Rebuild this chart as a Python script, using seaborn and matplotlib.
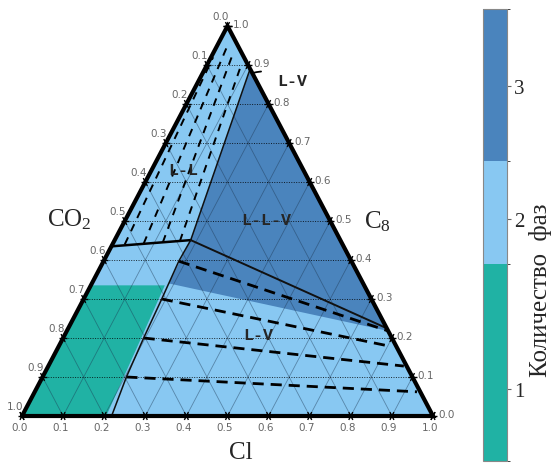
import numpy as np
import pandas as pd
import seaborn as sns
import matplotlib
matplotlib.use("Agg")
from matplotlib import pyplot as plt
from matplotlib.colors import ListedColormap, BoundaryNorm
from matplotlib.cm import ScalarMappable
from matplotlib.collections import LineCollection

sns.set_style("white")
plt.rcParams['font.family'] = ['DejaVu Sans']
plt.rcParams['mathtext.default'] = 'regular'

# colours for 1, 2, 3 phases
phase_colors = ["#20b2a4", "#88c8f2", "#4a84bd"]
phase_labels = ["1", "2", "3"]

# colorbar segment edges / tick positions (fraction of bar height)
cbar_edges = [0.0, 0.436, 0.664, 1.0]
cbar_ticks = [0.159, 0.535, 0.830]

# compositions given as (C1, C8) fractions, CO2 = 1 - C1 - C8
one_phase_c1 = [0.0, 0.0, 0.18, 0.205]
one_phase_c8 = [0.0, 0.335, 0.335, 0.0]

three_phase_c1 = [0.11, 0.782, 0.187, 0.185]
three_phase_c8 = [0.89, 0.218, 0.34, 0.451]

boundary_c1 = [0.11, 0.185, 0.183, 0.19, 0.196, 0.204, 0.218]
boundary_c8 = [0.89, 0.451, 0.397, 0.30, 0.20, 0.10, 0.0]

ll_base_c1 = [0.0, 0.185]
ll_base_c8 = [0.435, 0.451]

llv_edge_c1 = [0.185, 0.775]
llv_edge_c8 = [0.451, 0.225]

# tie-lines (start, end)
ll_ties_c1 = [[0.03, 0.005], [0.075, 0.025], [0.12, 0.05], [0.16, 0.085]]
ll_ties_c8 = [[0.44, 0.92], [0.442, 0.95], [0.445, 0.92], [0.448, 0.89]]
lv_ties_c1 = [[0.183, 0.782], [0.19, 0.80], [0.196, 0.865], [0.204, 0.93]]
lv_ties_c8 = [[0.397, 0.218], [0.30, 0.18], [0.20, 0.128], [0.10, 0.062]]

tick_values = [round(i / 10, 1) for i in range(11)]


def to_xy(c1, c8):
    c1 = np.asarray(c1, dtype=float)
    c8 = np.asarray(c8, dtype=float)
    return c1 + c8 / 2.0, c8


fig = plt.figure(figsize=(5.55, 4.64), dpi=100)
ax = fig.add_axes([0, 0, 445 / 555, 1])
ax.set_xlim((0 - 22) / 411, (445 - 22) / 411)
ax.set_ylim((417 - 464) / 390, 417 / 390)
ax.axis("off")

# background: whole triangle two-phase
tx, ty = to_xy([0, 1, 0], [0, 0, 1])
ax.fill(tx, ty, color=phase_colors[1], lw=0, zorder=1)
x, y = to_xy(three_phase_c1, three_phase_c8)
ax.fill(x, y, color=phase_colors[2], lw=0, zorder=1)
x, y = to_xy(one_phase_c1, one_phase_c8)
ax.fill(x, y, color=phase_colors[0], lw=0, zorder=1)

# triangular grid
slanted = []
flat = []
for v in tick_values[1:-1]:
    flat.append(np.column_stack(to_xy([0, 1 - v], [v, v])))
    slanted.append(np.column_stack(to_xy([v, v], [0, 1 - v])))
    slanted.append(np.column_stack(to_xy([1 - v, 0], [0, 1 - v])))
ax.add_collection(LineCollection(slanted, colors="#1c3550", linewidths=0.6, alpha=0.45, zorder=2))
ax.add_collection(LineCollection(flat, colors="black", linewidths=0.7, alpha=0.8,
                                 linestyles=[(0, (1, 1.5))], zorder=2))

# tie-lines
rows = []
for k, (cs, hs) in enumerate(zip(ll_ties_c1 + lv_ties_c1, ll_ties_c8 + lv_ties_c8)):
    xs, ys = to_xy(cs, hs)
    for xx, yy in zip(xs, ys):
        rows.append({"x": xx, "y": yy, "tie": k, "group": "ll" if k < 4 else "lv"})
ties = pd.DataFrame(rows)
sns.lineplot(data=ties[ties.group == "ll"], x="x", y="y", units="tie", estimator=None,
             sort=False, color="black", lw=1.4, linestyle=(0, (4, 3.5)), ax=ax, zorder=3)
sns.lineplot(data=ties[ties.group == "lv"], x="x", y="y", units="tie", estimator=None,
             sort=False, color="black", lw=2.0, linestyle=(0, (4, 2.5)), ax=ax, zorder=3)

# phase boundaries
x, y = to_xy(boundary_c1, boundary_c8)
ax.plot(x, y, color="#111111", lw=1.1, zorder=4)
x, y = to_xy(ll_base_c1, ll_base_c8)
ax.plot(x, y, color="black", lw=1.8, zorder=4)
x, y = to_xy(llv_edge_c1, llv_edge_c8)
ax.plot(x, y, color="#111111", lw=1.4, zorder=4)

# tick marks on the edges
L = 0.01
segs = []
for v in tick_values:
    for p, dirs in [((v, 0.0), [(0, 1), (-1, 1)]),
                    ((0.0, 1 - v), [(1, 0), (1, -1)]),
                    ((1 - v, v), [(1, 0), (0, 1)])]:
        for d in dirs:
            a = to_xy(p[0] - L * d[0], p[1] - L * d[1])
            b = to_xy(p[0] + L * d[0], p[1] + L * d[1])
            segs.append([a, b])
ax.add_collection(LineCollection(segs, colors="black", linewidths=1.0, zorder=5))

# triangle edges
ax.plot(np.append(tx, tx[0]), np.append(ty, ty[0]), color="black", lw=3, zorder=5,
        solid_joinstyle="miter")

# tick labels
lab_kw = dict(textcoords="offset points", fontsize=7.5, color="#666666", ha="center", va="center", zorder=6)
for v in tick_values:
    ax.annotate(f"{v:.1f}", to_xy(v, 0), xytext=(-2, -8), **lab_kw)
    ax.annotate(f"{v:.1f}", to_xy(0, 1 - v), xytext=(-5, 7), **lab_kw)
    ax.annotate(f"{v:.1f}", to_xy(1 - v, v), xytext=(9.5, 1.4), **lab_kw)

# region labels
reg_kw = dict(fontfamily="Liberation Mono", fontweight="bold", fontsize=12, ha="center", va="center", zorder=6)
ax.text(*to_xy(0.075, 0.633), "L-L", **reg_kw)
ax.text(*to_xy(0.341, 0.505), "L-L-V", **reg_kw)
ax.text(*to_xy(0.469, 0.21), "L-V", **reg_kw)
ax.annotate("L-V", xy=to_xy(0.12, 0.879), xytext=to_xy(0.227, 0.859),
            arrowprops=dict(arrowstyle="-", color="black", lw=1.3, shrinkA=9, shrinkB=0,
                            connectionstyle="arc3,rad=0.25"), **reg_kw)

# component names
name_kw = dict(fontfamily="Liberation Serif", fontsize=18, ha="center", va="center", zorder=6)
ax.text(0.114, 0.505, "CO$_2$", **name_kw)
ax.text(0.866, 0.50, "C$_8$", **name_kw)
ax.text(0.533, -0.092, "Cl", **name_kw)

# colorbar
cax = fig.add_axes([483 / 555, 2 / 464, 24 / 555, 452 / 464])
cmap = ListedColormap(phase_colors)
sm = ScalarMappable(norm=BoundaryNorm(cbar_edges, cmap.N), cmap=cmap)
cb = fig.colorbar(sm, cax=cax, boundaries=cbar_edges, spacing="proportional", ticks=cbar_ticks)
cb.set_ticklabels(phase_labels)
cb.outline.set_edgecolor("#888888")
cb.outline.set_linewidth(0.8)
cax.tick_params(length=3, width=0.8, color="#666666", labelsize=15, pad=2)
for t in cax.get_yticklabels():
    t.set_fontfamily("Liberation Serif")
fig.text(541 / 555, (464 - 290) / 464, "Количество  фаз", rotation=90, ha="center", va="center",
         fontfamily="Liberation Serif", fontsize=18)

fig.savefig("out.png", dpi=100)
